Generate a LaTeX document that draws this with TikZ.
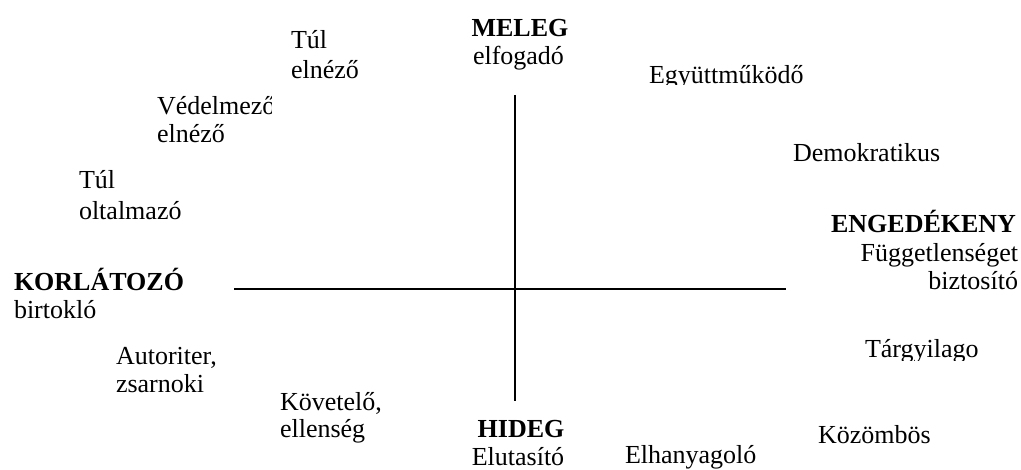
\documentclass[tikz,border=0pt]{standalone}
\usepackage{fontspec}
\setmainfont{Liberation Serif}
\begin{document}
\begin{tikzpicture}[x=0.75pt,y=-0.75pt,
  lbl/.style={inner sep=0pt,outer sep=0pt,font=\fontsize{19.5}{21.4}\selectfont},
  hd/.style={lbl,font=\fontsize{19.5}{21.4}\selectfont\bfseries},
  axisline/.style={line width=1.5pt,black}]
\useasboundingbox (0,0) rectangle (1021,470);
% axes
\coordinate (hL) at (234,289);
\coordinate (hR) at (786,289);
\coordinate (vT) at (515,95);
\coordinate (vB) at (515,401);
\draw[axisline] (hL) -- (hR);
\draw[axisline] (vT) -- (vB);
% top
\node[hd,anchor=base] (meleg) at (520,36.5) {MELEG};
\node[lbl,anchor=base] (elfog) at (518.5,65) {elfogadó};
% bottom
\node[hd,anchor=base] (hideg) at (521,437) {HIDEG};
\node[lbl,anchor=base] (eluta) at (518,465) {Elutasító};
% left
\node[hd,anchor=base west] (korl) at (14,291) {KORLÁTOZÓ};
\node[lbl,anchor=base west] (birt) at (14,319) {birtokló};
% right
\node[hd,anchor=base east] (enged) at (1016,233) {ENGEDÉKENY};
\node[lbl,anchor=base east] (fugg) at (1018,261.5) {Függetlenséget};
\node[lbl,anchor=base east] (bizt) at (1018,290) {biztosító};
% upper left
\node[lbl,anchor=base west] (tul1) at (291,49) {Túl};
\node[lbl,anchor=base west] (elnez1) at (291,78.5) {elnéző};
\begin{scope}
\clip (150,88) rectangle (271.5,125);
\node[lbl,anchor=base west] (vedel) at (157,114.5) {Védelmező};
\end{scope}
\node[lbl,anchor=base west] (elnez2) at (157,142.5) {elnéző};
\node[lbl,anchor=base west] (tul2) at (79,189) {Túl};
\node[lbl,anchor=base west] (oltal) at (79,220) {oltalmazó};
% upper right
\begin{scope}
\clip (640,55) rectangle (830,85);
\node[lbl,anchor=base west] (egyutt) at (649,84) {Együttműködő};
\end{scope}
\node[lbl,anchor=base west] (demo) at (793,161.5) {Demokratikus};
% lower left
\node[lbl,anchor=base west] (auto) at (116,364.5) {Autoriter,};
\node[lbl,anchor=base west] (zsar) at (116,392) {zsarnoki};
\node[lbl,anchor=base west] (kovet) at (280,410) {Követelő,};
\node[lbl,anchor=base west] (ellen) at (280,437.5) {ellenség};
% lower right
\begin{scope}
\clip (855,330) rectangle (1000,360);
\node[lbl,anchor=base west] (targy) at (865,358) {Tárgyilago};
\end{scope}
\node[lbl,anchor=base west] (kozom) at (818,443) {Közömbös};
\node[lbl,anchor=base west] (elhany) at (625,463.5) {Elhanyagoló};
\end{tikzpicture}
\end{document}
